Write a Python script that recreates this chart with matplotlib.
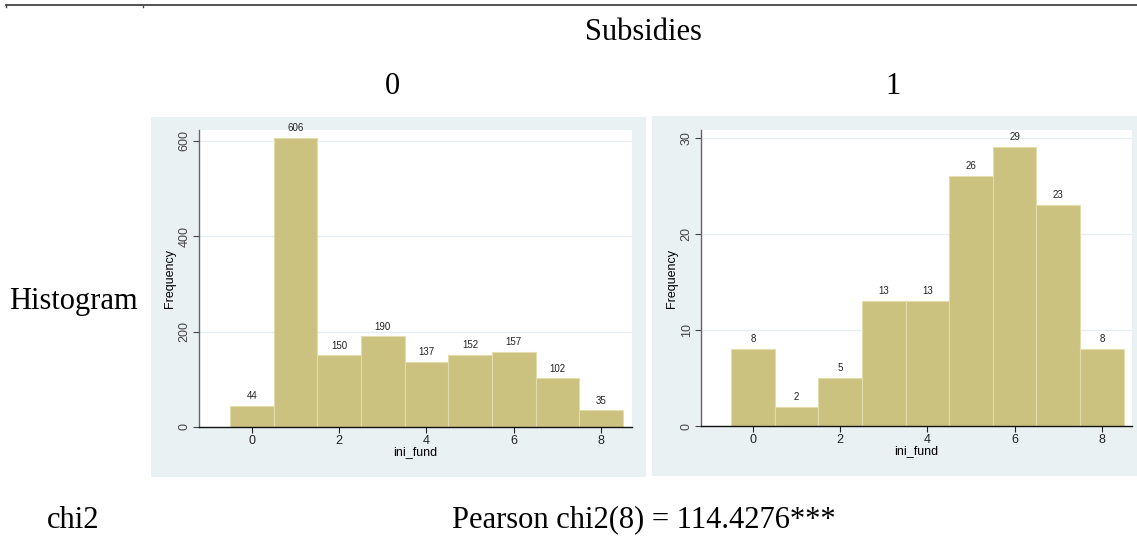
import matplotlib
matplotlib.use("Agg")
import matplotlib.pyplot as plt
from matplotlib.patches import Rectangle
from matplotlib.lines import Line2D

# ---- data ----
bins = [0, 1, 2, 3, 4, 5, 6, 7, 8]
freq_0 = [44, 606, 150, 190, 137, 152, 157, 102, 35]
freq_1 = [8, 2, 5, 13, 13, 26, 29, 23, 8]
yticks_0 = [0, 200, 400, 600]
yticks_1 = [0, 10, 20, 30]
xticks = [0, 2, 4, 6, 8]
col_header = "Subsidies"
col_labels = ["0", "1"]
row_label = "Histogram"
chi_label = "chi2"
chi_text = "Pearson chi2(8) = 114.4276***"

W, H = 1137, 538
fig = plt.figure(figsize=(W / 100, H / 100), dpi=100)
fig.patch.set_facecolor("white")

BAR = "#CBC27F"
BAR_EDGE = "#E2DCAE"
BG = "#EAF1F3"
GRID = "#E6EEF0"
SERIF = ["Liberation Serif", "DejaVu Serif"]
SANS = ["Liberation Sans", "DejaVu Sans"]


def fx(x):
    return x / W


def fy(y):
    return 1 - y / H


def px_rect(x0, y0, x1, y1):
    return [fx(x0), fy(y1), (x1 - x0) / W, (y1 - y0) / H]


# table top rule
fig.add_artist(Line2D([fx(6), fx(1137)], [fy(4.5), fy(4.5)], color="#444444", lw=1.3))
for xx in (6, 143):
    fig.add_artist(Line2D([fx(xx), fx(xx)], [fy(4.5), fy(6.5)], color="#444444", lw=1.0))

# panel backgrounds
for (x0, y0, x1, y1) in [(151, 117, 646, 477), (652, 116, 1137, 476)]:
    fig.add_artist(Rectangle((fx(x0), fy(y1)), (x1 - x0) / W, (y1 - y0) / H,
                             transform=fig.transFigure, facecolor=BG,
                             edgecolor="none", zorder=0))


def draw_hist(rect, freqs, yticks, xlim, ylim, label_off):
    ax = fig.add_axes(rect)
    ax.set_facecolor("white")
    ax.bar(bins, freqs, width=1.0, color=BAR, edgecolor=BAR_EDGE, linewidth=0.8, zorder=2)
    for b, v in zip(bins, freqs):
        ax.text(b, v + label_off, str(v), ha="center", va="bottom",
                fontsize=7, family=SANS, color="#222222")
    ax.set_xlim(*xlim)
    ax.set_ylim(*ylim)
    ax.set_yticks(yticks)
    ax.set_yticklabels([str(t) for t in yticks], rotation=90, va="center",
                       fontsize=9, family=SANS)
    ax.set_xticks(xticks)
    ax.set_xticklabels([str(t) for t in xticks], fontsize=9, family=SANS)
    for t in yticks[1:]:
        ax.axhline(t, color=GRID, lw=1.0, zorder=1)
    ax.spines["top"].set_visible(False)
    ax.spines["right"].set_visible(False)
    ax.spines["left"].set_color("#666666")
    ax.spines["bottom"].set_color("#111111")
    ax.spines["left"].set_linewidth(1.0)
    ax.spines["bottom"].set_linewidth(1.0)
    ax.tick_params(axis="both", length=4, width=0.8, pad=2, colors="#222222")
    ax.tick_params(axis="y", colors="#444444")
    ax.set_ylabel("Frequency", fontsize=9, family=SANS, labelpad=2)
    ax.set_xlabel("ini_fund", fontsize=9, family=SANS, labelpad=-1)
    return ax


draw_hist(px_rect(199, 130, 632, 427), freq_0, yticks_0, (-1.21, 8.71), (0, 623), 10)
draw_hist(px_rect(701, 130, 1132, 426), freq_1, yticks_1, (-1.19, 8.69), (0, 30.8), 0.5)

# table texts
FS = 22
fig.text(fx(643), fy(33), col_header, ha="center", va="center", fontsize=FS, family=SERIF)
fig.text(fx(392), fy(86), col_labels[0], ha="center", va="center", fontsize=FS, family=SERIF)
fig.text(fx(893), fy(86), col_labels[1], ha="center", va="center", fontsize=FS, family=SERIF)
fig.text(fx(9), fy(302), row_label, ha="left", va="center", fontsize=FS, family=SERIF)
fig.text(fx(47), fy(520), chi_label, ha="left", va="center", fontsize=FS, family=SERIF)
fig.text(fx(644), fy(520), chi_text, ha="center", va="center", fontsize=FS, family=SERIF)

fig.savefig("out.png", dpi=100)
